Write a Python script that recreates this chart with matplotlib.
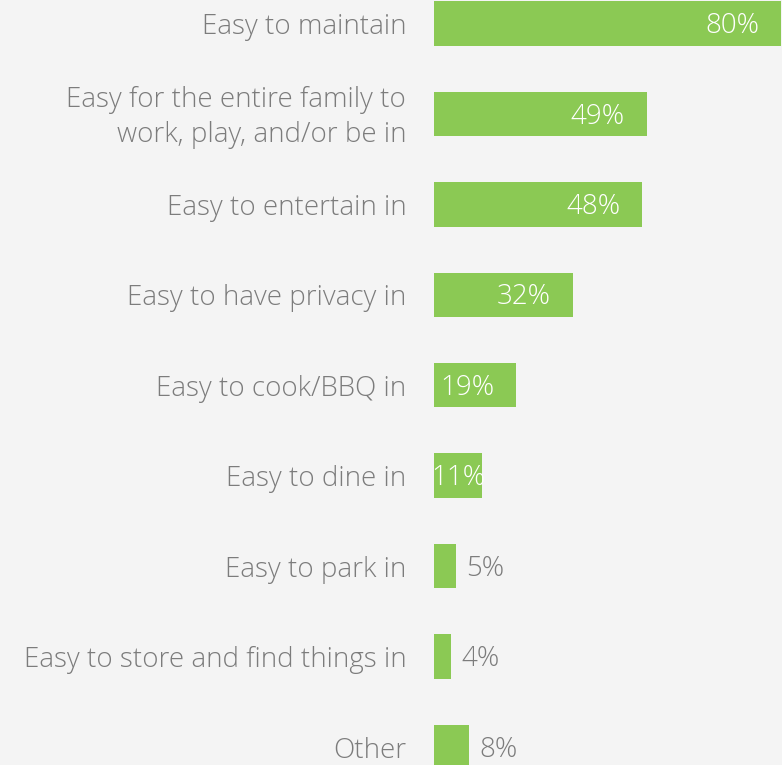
import matplotlib.pyplot as plt

# survey answers, top to bottom
categories = [
    "Easy to maintain",
    "Easy for the entire family to\nwork, play, and/or be in",
    "Easy to entertain in",
    "Easy to have privacy in",
    "Easy to cook/BBQ in",
    "Easy to dine in",
    "Easy to park in",
    "Easy to store and find things in",
    "Other",
]
values = [80, 49, 48, 32, 19, 11, 5, 4, 8]

bg = "#f4f4f4"
green = "#8bc954"
grey = "#7c7c7c"

font = dict(family="Open Sans", weight=300, size=20)

fig = plt.figure(figsize=(7.82, 7.65), dpi=100, facecolor=bg)
ax = fig.add_axes([434 / 782, 0, 348 / 782, 1], facecolor=bg)

pos = list(range(len(values)))
ax.barh(pos, values, height=0.49, color=green)
ax.set_xlim(0, 348 / 4.34)
ax.set_ylim(8.2, -0.26)
ax.axis("off")

for y, cat, v in zip(pos, categories, values):
    ax.text(-6.4, y + 0.04, cat, ha="right", va="center", color=grey,
            linespacing=1.3, **font)
    if v >= 10:
        ax.text(max(v - 5, 11.8), y + 0.03, f"{v}%", ha="right", va="center",
                color="white", **font)
    else:
        ax.text(v + 2.4, y + 0.03, f"{v}%", ha="left", va="center", color=grey, **font)

fig.savefig("out.png", dpi=100, facecolor=bg)
